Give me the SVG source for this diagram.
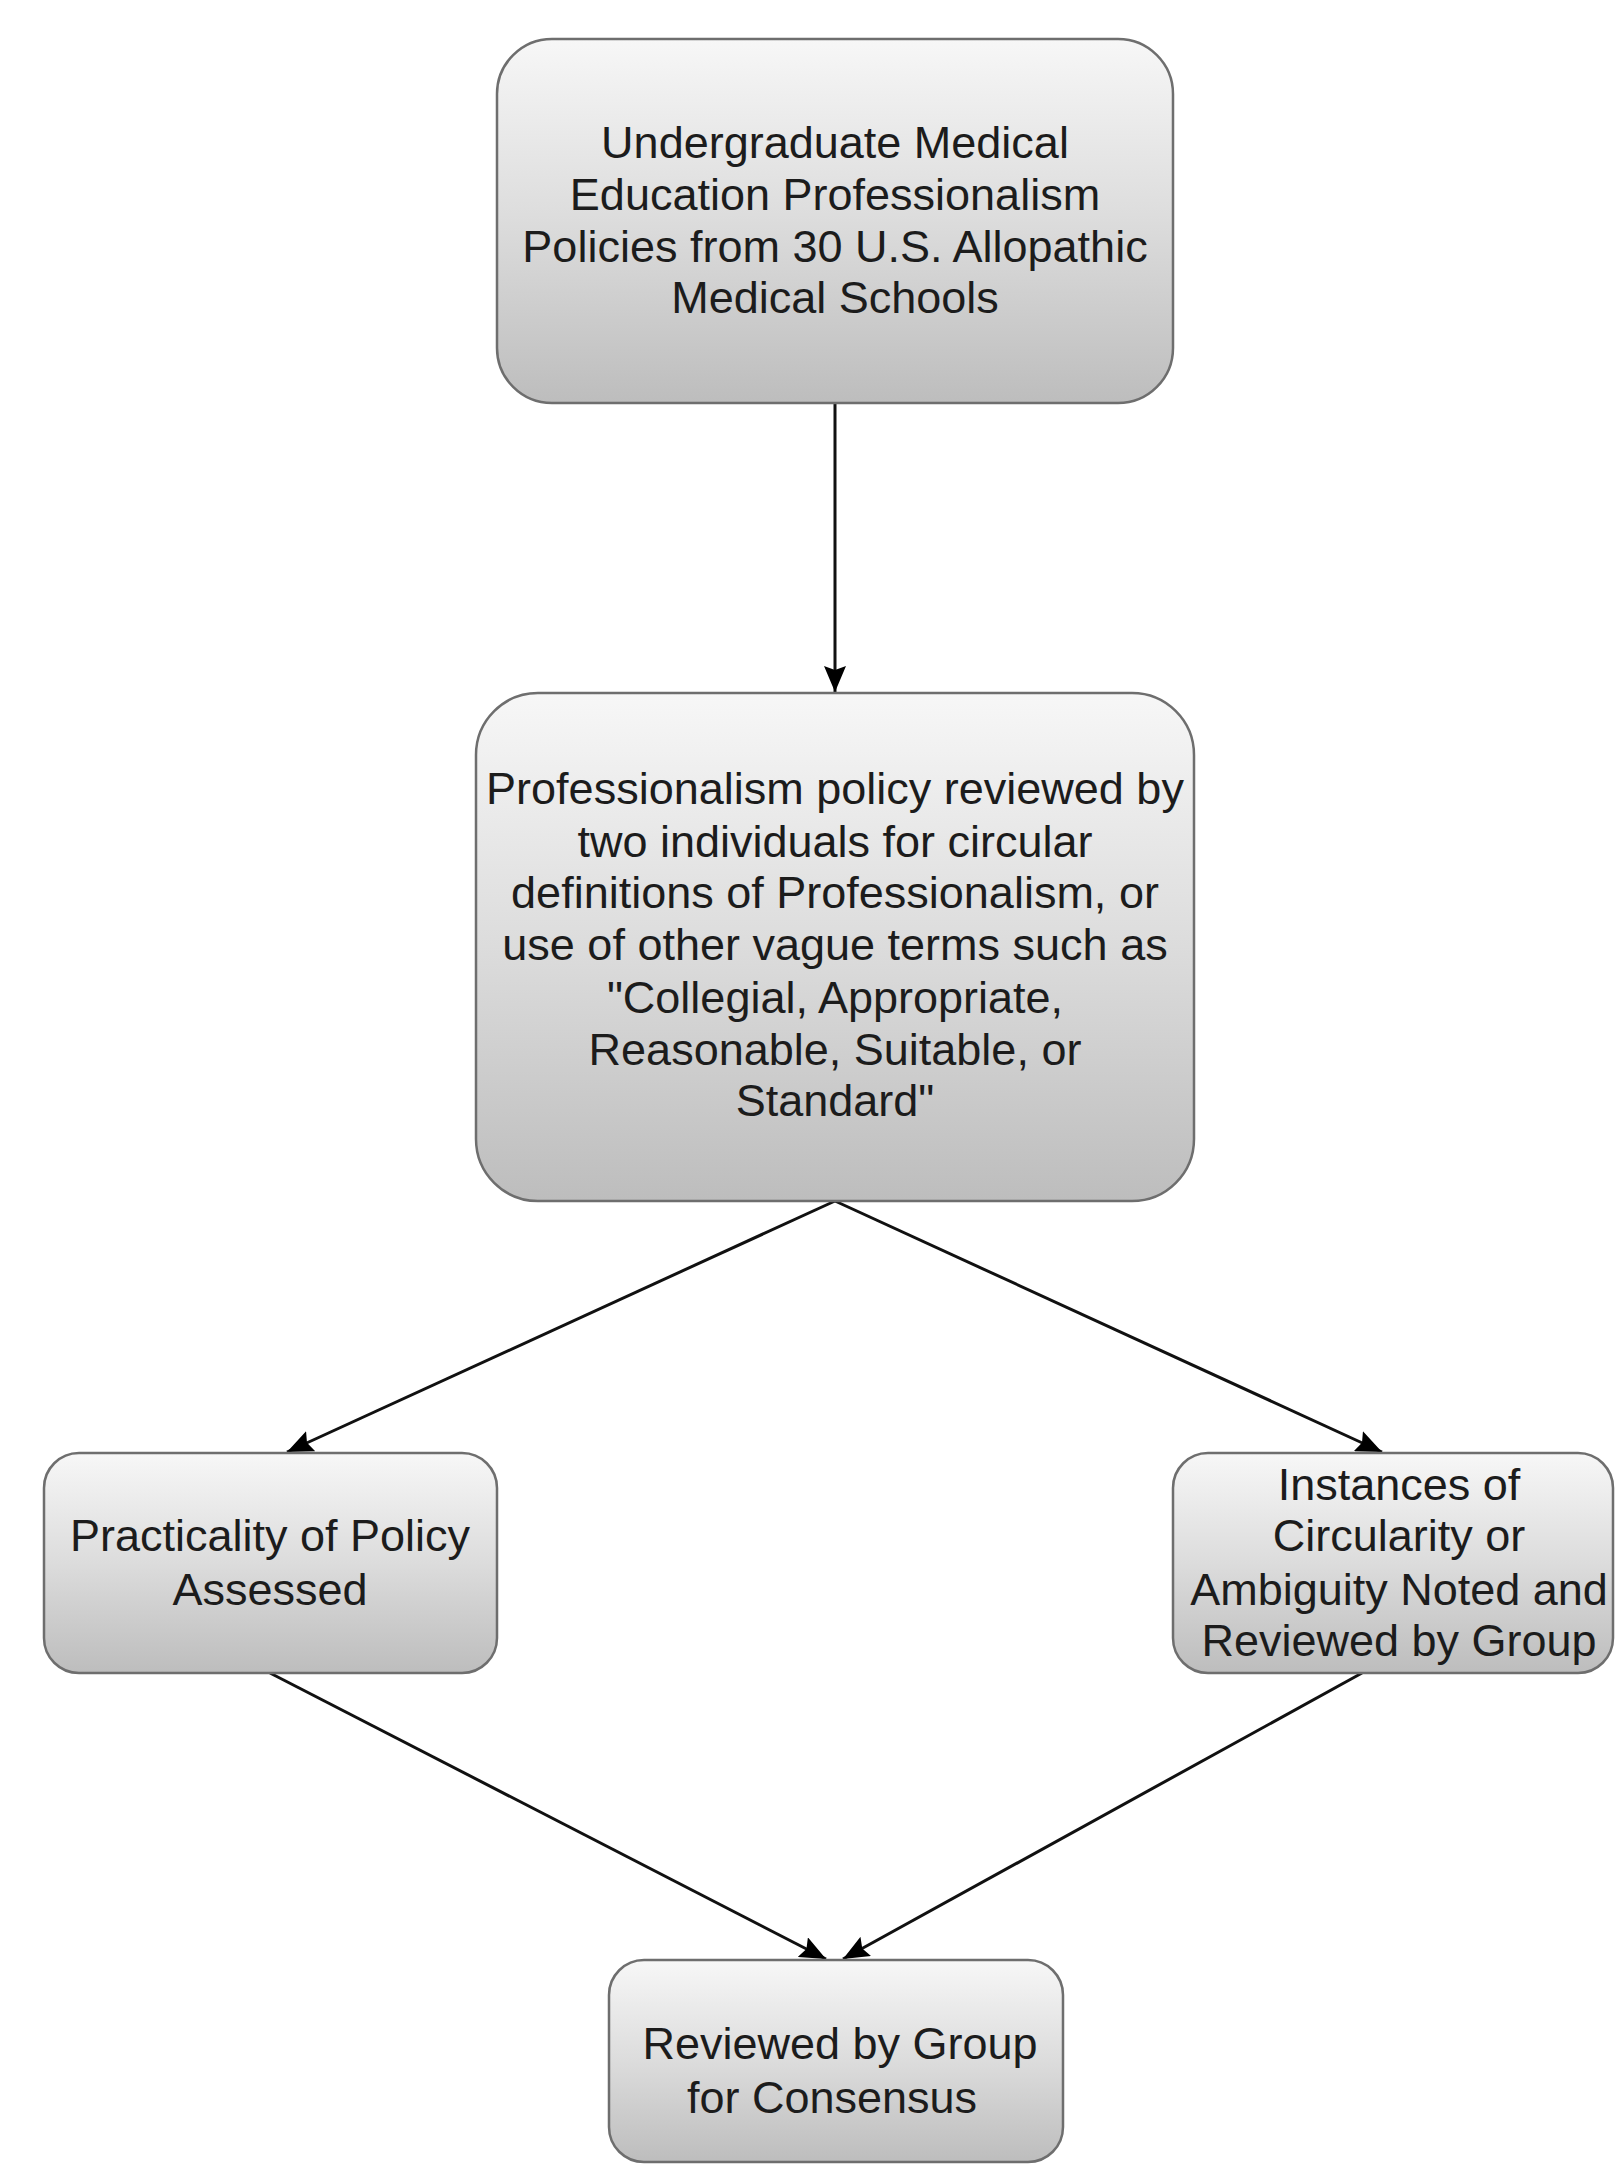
<svg xmlns="http://www.w3.org/2000/svg" width="1615" height="2165" viewBox="0 0 1615 2165">
<defs>
<linearGradient id="g" x1="0" y1="0" x2="0" y2="1">
<stop offset="0" stop-color="#f7f7f7"/>
<stop offset="0.5" stop-color="#dcdcdc"/>
<stop offset="1" stop-color="#bdbdbd"/>
</linearGradient>
<marker id="arr" viewBox="0 0 26 22" refX="26" refY="11" markerWidth="26" markerHeight="22" markerUnits="userSpaceOnUse" orient="auto">
<path d="M0,0 L26,11 L0,22 L4,11 Z" fill="#000"/>
</marker>
</defs>
<style>
.box{fill:url(#g);stroke:#6e6e6e;stroke-width:2.5}
.t{font-family:"Liberation Sans",Arial,sans-serif;font-size:45px;fill:#1c1c1c;text-anchor:middle}
.c{stroke:#111;stroke-width:3;fill:none;marker-end:url(#arr)}
</style>
<rect width="1615" height="2165" fill="#ffffff"/>
<g id="connectors">
<line class="c" x1="835" y1="403" x2="835" y2="692"/>
<line class="c" x1="835" y1="1201" x2="287" y2="1452"/>
<line class="c" x1="835" y1="1201" x2="1382" y2="1452"/>
<line class="c" x1="270" y1="1673" x2="826" y2="1959"/>
<line class="c" x1="1362" y1="1673" x2="843" y2="1959"/>
</g>
<g id="node-sources">
<rect class="box" x="497" y="39" width="676" height="364" rx="55" ry="55"/>
<text class="t" x="835" y="158">Undergraduate Medical</text>
<text class="t" x="835" y="210">Education Professionalism</text>
<text class="t" x="835" y="262">Policies from 30 U.S. Allopathic</text>
<text class="t" x="835" y="313">Medical Schools</text>
</g>
<g id="node-review">
<rect class="box" x="476" y="693" width="718" height="508" rx="62" ry="62"/>
<text class="t" x="835" y="804">Professionalism policy reviewed by</text>
<text class="t" x="835" y="857">two individuals for circular</text>
<text class="t" x="835" y="908">definitions of Professionalism, or</text>
<text class="t" x="835" y="960">use of other vague terms such as</text>
<text class="t" x="835" y="1013">"Collegial, Appropriate,</text>
<text class="t" x="835" y="1065">Reasonable, Suitable, or</text>
<text class="t" x="835" y="1116">Standard"</text>
</g>
<g id="node-practicality">
<rect class="box" x="44" y="1453" width="453" height="220" rx="35" ry="35"/>
<text class="t" x="270" y="1551">Practicality of Policy</text>
<text class="t" x="270" y="1605">Assessed</text>
</g>
<g id="node-instances">
<rect class="box" x="1173" y="1453" width="440" height="220" rx="35" ry="35"/>
<text class="t" x="1399" y="1500">Instances of</text>
<text class="t" x="1399" y="1551">Circularity or</text>
<text class="t" x="1399" y="1605">Ambiguity Noted and</text>
<text class="t" x="1399" y="1656">Reviewed by Group</text>
</g>
<g id="node-consensus">
<rect class="box" x="609" y="1960" width="454" height="202" rx="35" ry="35"/>
<text class="t" x="840" y="2059">Reviewed by Group</text>
<text class="t" x="832" y="2113">for Consensus</text>
</g>
</svg>
